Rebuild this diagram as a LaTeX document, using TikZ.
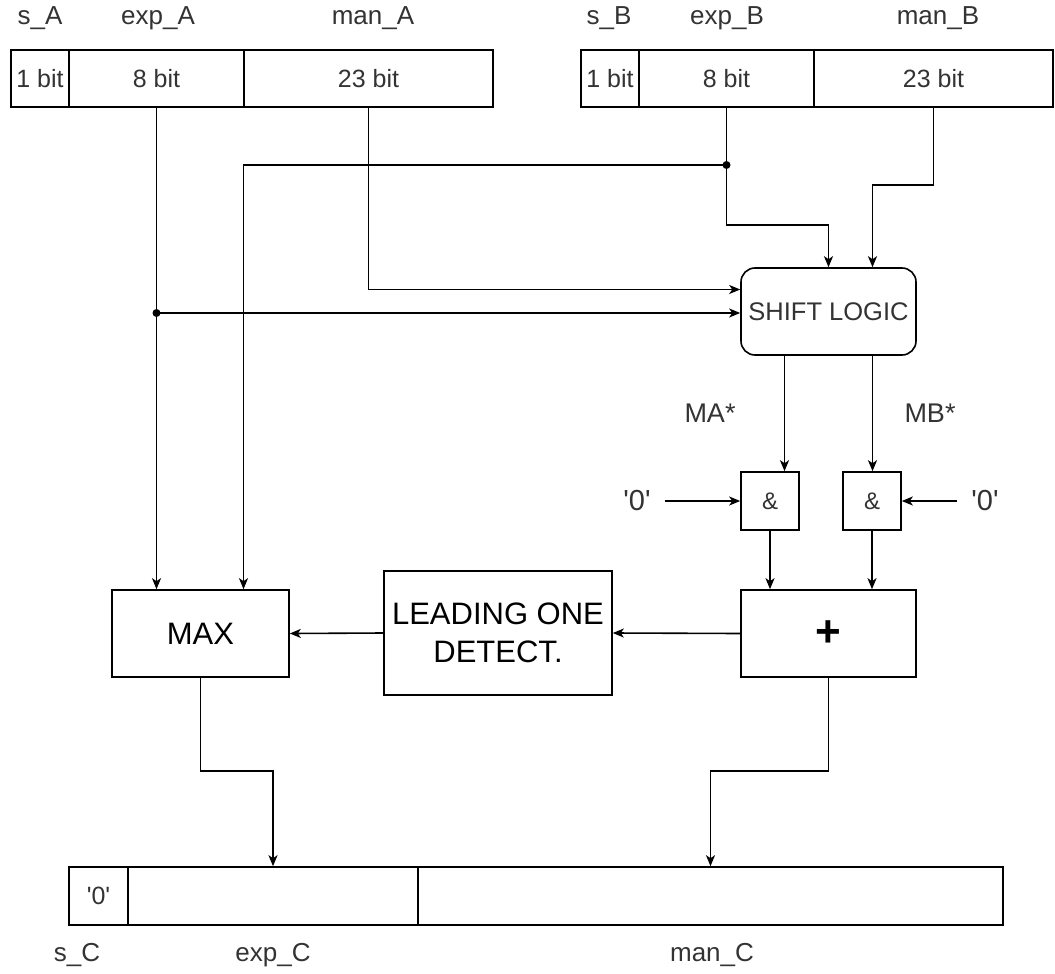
\documentclass[tikz,border=0pt]{standalone}
\usepackage{fontspec}
\setmainfont{Liberation Sans}
\usetikzlibrary{arrows.meta}

\begin{document}
\begin{tikzpicture}[x=1pt, y=-1pt, line width=1.6pt,
    cell/.style={draw, rectangle, inner sep=0pt, minimum height=57pt, text=black!80,
      font=\fontsize{25}{28}\selectfont},
    lbl/.style={inner sep=0pt, text=black!80, font=\fontsize{26}{28}\selectfont},
    blk/.style={draw, rectangle, inner sep=0pt, align=center},
    wire/.style={-{Stealth[length=11pt, width=9pt, inset=3pt]}}]
  \useasboundingbox (0,0) rectangle (1055,974);

  % input registers
  \node[cell, minimum width=58pt]  (sA) at (40,78.5)    {1 bit};
  \node[cell, minimum width=175pt] (eA) at (156.5,78.5) {8 bit};
  \node[cell, minimum width=249pt] (mA) at (368.5,78.5) {23 bit};
  \node[cell, minimum width=58pt]  (sB) at (610,78.5)   {1 bit};
  \node[cell, minimum width=175pt] (eB) at (726.5,78.5) {8 bit};
  \node[cell, minimum width=239pt] (mB) at (933.5,78.5) {23 bit};
  \node[lbl] (lsA) at (40,18)  {s\_A};
  \node[lbl] (leA) at (158,18) {exp\_A};
  \node[lbl] (lmA) at (373,18) {man\_A};
  \node[lbl] (lsB) at (609,18) {s\_B};
  \node[lbl] (leB) at (727,18) {exp\_B};
  \node[lbl] (lmB) at (938,18) {man\_B};

  % blocks
  \node[blk, rounded corners=14pt, minimum width=175pt, minimum height=87pt, text=black!80,
    font=\fontsize{25.5}{28}\selectfont] (shift) at (828.5,311.5) {SHIFT LOGIC};
  \node[blk, minimum width=58pt, minimum height=58pt, text=black!80,
    font=\fontsize{24}{26}\selectfont] (g1) at (770,501) {\&};
  \node[blk, minimum width=58pt, minimum height=58pt, text=black!80,
    font=\fontsize{24}{26}\selectfont] (g2) at (872,501) {\&};
  \node[blk, minimum width=175pt, minimum height=87pt,
    font=\fontsize{44}{46}\selectfont\bfseries] (plus) at (828.5,633.5) {+};
  \node[blk, minimum width=228pt, minimum height=124pt,
    font=\fontsize{31}{38}\selectfont] (lod) at (498,633) {LEADING ONE\\DETECT.};
  \node[blk, minimum width=177pt, minimum height=87pt,
    font=\fontsize{31}{34}\selectfont] (max) at (200.5,633.5) {MAX};
  \node[lbl, font=\fontsize{27}{30}\selectfont] (ma) at (710,413) {MA*};
  \node[lbl, font=\fontsize{27}{30}\selectfont] (mb) at (930,413) {MB*};
  \node[lbl, font=\fontsize{29}{30}\selectfont] (z1) at (637,501) {\textquotesingle0\textquotesingle};
  \node[lbl, font=\fontsize{29}{30}\selectfont] (z2) at (985,501) {\textquotesingle0\textquotesingle};

  % output register
  \node[cell, minimum width=59pt, minimum height=58pt]  (sC) at (98.5,896)  {\textquotesingle0\textquotesingle};
  \node[cell, minimum width=290pt, minimum height=58pt] (eC) at (273,896)   {};
  \node[cell, minimum width=585pt, minimum height=58pt] (mC) at (710.5,896) {};
  \node[lbl] (lsC) at (77,955)  {s\_C};
  \node[lbl] (leC) at (273,955) {exp\_C};
  \node[lbl] (lmC) at (712,955) {man\_C};

  % junctions
  \coordinate (jA) at (156.5,313);
  \coordinate (jB) at (726.5,165);
  \fill (jA) circle (4pt);
  \fill (jB) circle (4pt);

  % wires
  \draw[wire] (eA.south) -- (eA.south |- max.north);
  \draw[wire] (jA) -- (jA -| shift.west);
  \draw[wire] (mA.south) |- ([yshift=22pt]shift.west);
  \draw[wire] (eB.south) -- (eB.south |- 0,225) -| (shift.north);
  \draw[wire] (jB) -| ([xshift=43pt]max.north);
  \draw[wire] (mB.south) -- (mB.south |- 0,185) -| ([xshift=44pt]shift.north);
  \draw[wire] ([xshift=-44pt]shift.south) -- ([xshift=-44pt]shift.south |- g1.north);
  \draw[wire] ([xshift=44pt]shift.south) -- ([xshift=44pt]shift.south |- g2.north);
  \draw[wire, shorten <=14pt] (z1.east) -- (g1.west);
  \draw[wire, shorten <=14pt] (z2.west) -- (g2.east);
  \draw[wire] (g1.south) -- (g1.south |- plus.north);
  \draw[wire] (g2.south) -- (g2.south |- plus.north);
  \draw[wire] (plus.west) -- (lod.east);
  \draw[wire] (lod.west) -- (max.east);
  \draw[wire] (max.south) -- (max.south |- 0,771) -| (eC.north);
  \draw[wire] (plus.south) -- (plus.south |- 0,771) -| (mC.north);
\end{tikzpicture}
\end{document}
